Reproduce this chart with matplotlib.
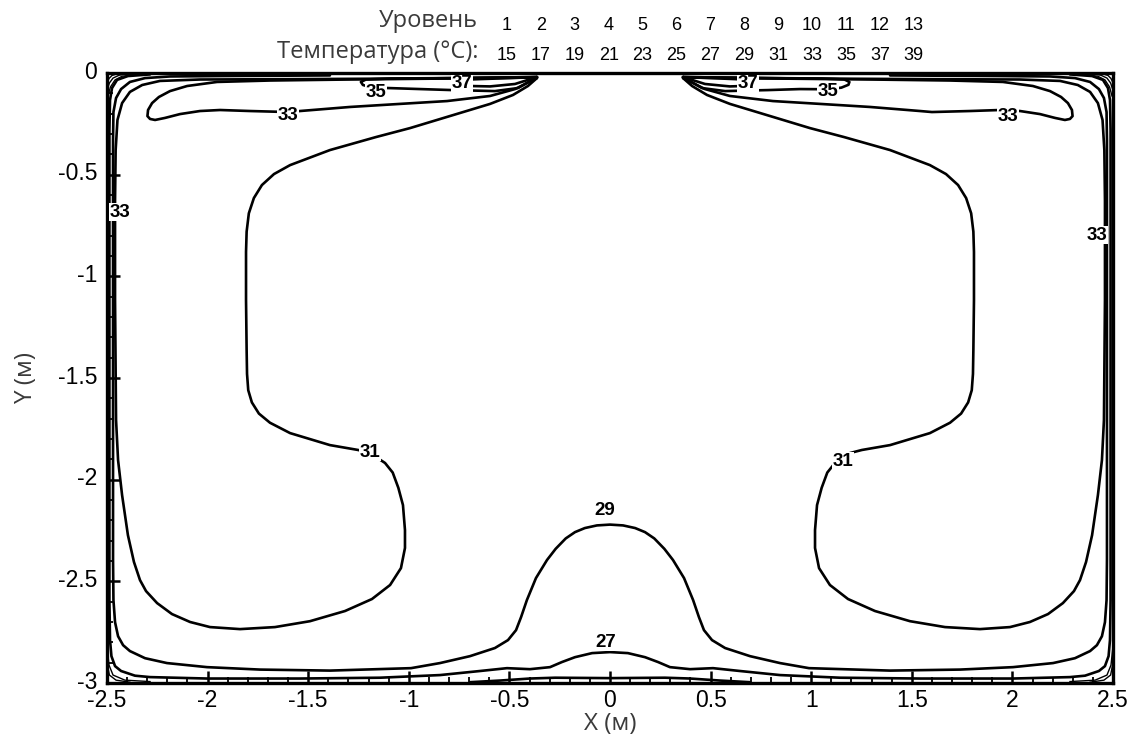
import matplotlib
matplotlib.use("Agg")
import matplotlib.pyplot as plt
import matplotlib.transforms as mtransforms
from matplotlib.ticker import MultipleLocator, FuncFormatter

plt.rcParams['axes.unicode_minus'] = False

# legend header: contour level number and its temperature
levels = [1, 2, 3, 4, 5, 6, 7, 8, 9, 10, 11, 12, 13]
level_temps = [15, 17, 19, 21, 23, 25, 27, 29, 31, 33, 35, 37, 39]

# contour traces, (x, y) in metres
loop31_left = [(-0.363, -0.025), (-0.408, -0.064), (-0.482, -0.108), (-0.596, -0.152), (-0.810, -0.216),
               (-0.994, -0.271), (-1.163, -0.315), (-1.392, -0.379), (-1.590, -0.453), (-1.670, -0.497),
               (-1.730, -0.551), (-1.770, -0.615), (-1.795, -0.690), (-1.806, -0.780), (-1.809, -0.880),
               (-1.809, -1.117), (-1.806, -1.363), (-1.804, -1.480), (-1.798, -1.560), (-1.780, -1.620),
               (-1.745, -1.675), (-1.690, -1.720), (-1.590, -1.771), (-1.392, -1.830), (-1.252, -1.854),
               (-1.193, -1.869), (-1.118, -1.918), (-1.080, -1.965), (-1.052, -2.040), (-1.029, -2.125),
               (-1.019, -2.248), (-1.019, -2.336), (-1.039, -2.435), (-1.093, -2.518), (-1.183, -2.587),
               (-1.317, -2.646), (-1.491, -2.696), (-1.665, -2.725), (-1.839, -2.735), (-1.988, -2.725),
               (-2.087, -2.700), (-2.177, -2.661), (-2.251, -2.607), (-2.306, -2.548), (-2.336, -2.494),
               (-2.366, -2.405), (-2.396, -2.273), (-2.425, -2.076), (-2.445, -1.904), (-2.455, -1.707),
               (-2.460, -1.117), (-2.460, -0.625), (-2.457, -0.379), (-2.448, -0.231), (-2.425, -0.148),
               (-2.386, -0.093), (-2.325, -0.059), (-2.237, -0.039), (-2.038, -0.032), (-1.541, -0.030),
               (-0.944, -0.027), (-0.363, -0.020)]
loop31_right = [(0.363, -0.025), (0.408, -0.064), (0.482, -0.108), (0.596, -0.152), (0.810, -0.216),
                (0.994, -0.271), (1.163, -0.315), (1.392, -0.379), (1.590, -0.453), (1.670, -0.497),
                (1.730, -0.551), (1.770, -0.615), (1.795, -0.690), (1.806, -0.780), (1.809, -0.880),
                (1.809, -1.117), (1.806, -1.363), (1.804, -1.480), (1.798, -1.560), (1.780, -1.620),
                (1.745, -1.675), (1.690, -1.720), (1.590, -1.771), (1.392, -1.830), (1.252, -1.854),
                (1.193, -1.869), (1.118, -1.918), (1.080, -1.965), (1.052, -2.040), (1.029, -2.125),
                (1.019, -2.248), (1.019, -2.336), (1.039, -2.435), (1.093, -2.518), (1.183, -2.587),
                (1.317, -2.646), (1.491, -2.696), (1.665, -2.725), (1.839, -2.735), (1.988, -2.725),
                (2.087, -2.700), (2.177, -2.661), (2.251, -2.607), (2.306, -2.548), (2.336, -2.494),
                (2.366, -2.405), (2.396, -2.273), (2.425, -2.076), (2.445, -1.904), (2.455, -1.707),
                (2.460, -1.117), (2.460, -0.625), (2.457, -0.379), (2.448, -0.231), (2.425, -0.148),
                (2.386, -0.093), (2.325, -0.059), (2.237, -0.039), (2.038, -0.032), (1.541, -0.030),
                (0.944, -0.027), (0.363, -0.020)]

tongue33_left = [(-0.363, -0.025), (-0.472, -0.079), (-0.596, -0.113), (-0.810, -0.138), (-1.044, -0.152),
                 (-1.292, -0.167), (-1.541, -0.187), (-1.600, -0.192), (-1.789, -0.187), (-1.938, -0.182),
                 (-2.038, -0.187), (-2.137, -0.202), (-2.212, -0.221), (-2.261, -0.231), (-2.286, -0.226),
                 (-2.299, -0.212), (-2.296, -0.182), (-2.276, -0.148), (-2.242, -0.118), (-2.187, -0.089),
                 (-2.102, -0.064), (-1.953, -0.044), (-1.690, -0.037), (-1.292, -0.032), (-0.795, -0.027),
                 (-0.363, -0.022)]
tongue33_right = [(0.363, -0.025), (0.472, -0.079), (0.596, -0.113), (0.810, -0.138), (1.044, -0.152),
                  (1.292, -0.167), (1.541, -0.187), (1.600, -0.192), (1.789, -0.187), (1.938, -0.182),
                  (2.038, -0.187), (2.137, -0.202), (2.212, -0.221), (2.261, -0.231), (2.286, -0.226),
                  (2.299, -0.212), (2.296, -0.182), (2.276, -0.148), (2.242, -0.118), (2.187, -0.089),
                  (2.102, -0.064), (1.953, -0.044), (1.690, -0.037), (1.292, -0.032), (0.795, -0.027),
                  (0.363, -0.022)]

band35_left = [(-0.363, -0.020), (-0.457, -0.074), (-0.572, -0.089), (-0.696, -0.086), (-0.785, -0.084),
               (-0.944, -0.079), (-1.103, -0.074), (-1.183, -0.071), (-1.228, -0.059), (-1.238, -0.044),
               (-1.213, -0.032), (-1.093, -0.027), (-0.795, -0.025), (-0.363, -0.020)]
band35_right = [(0.363, -0.020), (0.457, -0.074), (0.572, -0.089), (0.696, -0.086), (0.785, -0.084),
                (0.944, -0.079), (1.084, -0.080), (1.150, -0.072), (1.185, -0.058), (1.190, -0.044),
                (1.165, -0.032), (1.050, -0.027), (0.795, -0.025), (0.363, -0.020)]

band37_left = [(-0.363, -0.020), (-0.472, -0.054), (-0.596, -0.066), (-0.696, -0.064), (-0.755, -0.057),
               (-0.770, -0.044), (-0.746, -0.034), (-0.646, -0.030), (-0.497, -0.025), (-0.363, -0.020)]
band37_right = [(0.363, -0.020), (0.472, -0.054), (0.596, -0.066), (0.660, -0.064), (0.710, -0.057),
                (0.725, -0.044), (0.700, -0.034), (0.620, -0.030), (0.497, -0.025), (0.363, -0.020)]

# line running down the walls, along the floor and over the central hump
line29 = [(-1.392, -0.012), (-1.938, -0.015), (-2.187, -0.017), (-2.311, -0.025), (-2.386, -0.044),
          (-2.430, -0.079), (-2.455, -0.123), (-2.468, -0.192), (-2.470, -0.330), (-2.470, -1.117),
          (-2.470, -1.854), (-2.470, -2.395), (-2.468, -2.592), (-2.460, -2.701), (-2.445, -2.770),
          (-2.420, -2.814), (-2.386, -2.843), (-2.311, -2.878), (-2.202, -2.902), (-2.003, -2.922),
          (-1.740, -2.934), (-1.392, -2.939), (-0.989, -2.927), (-0.845, -2.902), (-0.696, -2.868),
          (-0.572, -2.828), (-0.507, -2.789), (-0.467, -2.740), (-0.442, -2.676), (-0.413, -2.592),
          (-0.368, -2.484), (-0.313, -2.395), (-0.270, -2.340), (-0.220, -2.289), (-0.174, -2.258),
          (-0.125, -2.238), (-0.065, -2.225), (0.000, -2.221), (0.065, -2.225), (0.125, -2.238),
          (0.174, -2.258), (0.220, -2.289), (0.270, -2.340), (0.313, -2.395),
          (0.368, -2.484), (0.413, -2.592), (0.442, -2.676), (0.467, -2.740), (0.507, -2.789),
          (0.572, -2.828), (0.696, -2.868), (0.845, -2.902), (0.989, -2.927), (1.392, -2.939),
          (1.740, -2.934), (2.003, -2.922), (2.202, -2.902), (2.311, -2.878), (2.386, -2.843),
          (2.420, -2.814), (2.445, -2.770), (2.460, -2.701), (2.468, -2.592), (2.470, -2.395),
          (2.470, -1.854), (2.470, -1.117), (2.470, -0.330), (2.468, -0.192), (2.455, -0.123),
          (2.430, -0.079), (2.386, -0.044), (2.311, -0.025), (2.187, -0.017), (1.938, -0.015),
          (1.392, -0.012)]

line27 = [(-2.286, -0.007), (-2.396, -0.015), (-2.450, -0.034), (-2.475, -0.074), (-2.485, -0.133),
          (-2.488, -0.280), (-2.488, -1.117), (-2.488, -1.854), (-2.488, -2.592), (-2.485, -2.789),
          (-2.478, -2.868), (-2.460, -2.917), (-2.430, -2.941), (-2.361, -2.964), (-2.286, -2.971),
          (-2.003, -2.978), (-1.541, -2.978), (-1.143, -2.974), (-0.845, -2.961), (-0.646, -2.941),
          (-0.512, -2.927), (-0.398, -2.932), (-0.298, -2.922), (-0.239, -2.897), (-0.174, -2.873),
          (-0.089, -2.853), (0.000, -2.848), (0.089, -2.853), (0.174, -2.873), (0.239, -2.897),
          (0.298, -2.922), (0.398, -2.932), (0.512, -2.927), (0.646, -2.941), (0.845, -2.961),
          (1.143, -2.974), (1.541, -2.978), (2.003, -2.978), (2.286, -2.971), (2.361, -2.964),
          (2.430, -2.941), (2.460, -2.917), (2.478, -2.868), (2.485, -2.789), (2.488, -2.592),
          (2.488, -1.854), (2.488, -1.117), (2.488, -0.280), (2.485, -0.133), (2.475, -0.074),
          (2.450, -0.034), (2.396, -0.015), (2.286, -0.007)]

line25 = [(-0.696, -2.996), (-0.547, -2.988), (-0.398, -2.978), (-0.273, -2.974), (0.000, -2.976),
          (0.273, -2.974), (0.398, -2.978), (0.547, -2.988), (0.696, -2.996)]

# small arcs packed into the four corners
corner_arcs = [
    [(-2.498, -0.044), (-2.490, -0.027), (-2.475, -0.012), (-2.455, -0.006)],
    [(-2.498, -0.079), (-2.488, -0.049), (-2.470, -0.025), (-2.440, -0.011), (-2.411, -0.006)],
    [(-2.495, -0.113), (-2.483, -0.069), (-2.460, -0.034), (-2.425, -0.016), (-2.371, -0.009)],
    [(2.498, -0.044), (2.490, -0.027), (2.475, -0.012), (2.455, -0.006)],
    [(2.498, -0.079), (2.488, -0.049), (2.470, -0.025), (2.440, -0.011), (2.411, -0.006)],
    [(2.495, -0.113), (2.483, -0.069), (2.460, -0.034), (2.425, -0.016), (2.371, -0.009)],
    [(-2.498, -2.838), (-2.490, -2.912), (-2.470, -2.961), (-2.411, -2.986), (-2.286, -2.993)],
    [(-2.498, -2.912), (-2.488, -2.961), (-2.455, -2.986), (-2.386, -2.996)],
    [(2.498, -2.838), (2.490, -2.912), (2.470, -2.961), (2.411, -2.986), (2.286, -2.993)],
    [(2.498, -2.912), (2.488, -2.961), (2.455, -2.986), (2.386, -2.996)],
]

# contour labels: text, x, y
contour_labels = [
    ("37", -0.736, -0.054), ("35", -1.163, -0.098), ("33", -1.600, -0.207), ("33", -2.435, -0.684),
    ("31", -1.193, -1.864), ("29", -0.025, -2.154), ("27", -0.020, -2.799),
    ("37", 0.686, -0.054), ("35", 1.084, -0.089), ("33", 1.978, -0.212), ("33", 2.420, -0.797),
    ("31", 1.158, -1.909),
]

W, H = 1139, 743
fig = plt.figure(figsize=(W / 100, H / 100), dpi=100)
ax = fig.add_axes([107 / W, 60 / H, 1006 / W, 610 / H])

traces = [loop31_left, loop31_right, tongue33_left, tongue33_right, band35_left, band35_right,
          band37_left, band37_right, line29, line27, line25]
for tr in traces:
    xs = [p[0] for p in tr]
    ys = [p[1] for p in tr]
    ax.plot(xs, ys, color='black', lw=1.9, solid_joinstyle='round', solid_capstyle='round', zorder=3)
for tr in corner_arcs:
    xs = [p[0] for p in tr]
    ys = [p[1] for p in tr]
    ax.plot(xs, ys, color='black', lw=1.0, solid_joinstyle='round', zorder=3)

for txt, lx, ly in contour_labels:
    ax.text(lx, ly, txt, ha='center', va='center', fontsize=13.5, fontweight='bold',
            family='Liberation Sans', zorder=5,
            bbox=dict(boxstyle='square,pad=0.02', fc='white', ec='none'))

ax.set_xlim(-2.5, 2.5)
ax.set_ylim(-3, 0)
ax.xaxis.set_major_locator(MultipleLocator(0.5))
ax.xaxis.set_minor_locator(MultipleLocator(0.1))
ax.yaxis.set_major_locator(MultipleLocator(0.5))
ax.yaxis.set_minor_locator(MultipleLocator(0.1))
fmt = FuncFormatter(lambda v, pos: '%g' % round(v, 2))
ax.xaxis.set_major_formatter(fmt)
ax.yaxis.set_major_formatter(fmt)
ax.tick_params(which='both', direction='in', top=False, right=False, width=1.3)
ax.tick_params(which='major', length=9, width=1.8)
ax.tick_params(which='minor', length=4.5)
ax.tick_params(axis='x', which='major', pad=4.5)
ax.tick_params(axis='y', which='major', pad=7)
for lab in ax.get_xticklabels() + ax.get_yticklabels():
    lab.set_family('Liberation Sans')
    lab.set_fontsize(16.5)
# y tick labels sit a little above their ticks in the original
lift = mtransforms.ScaledTranslation(0, 2.5 / 72, fig.dpi_scale_trans)
for lab in ax.get_yticklabels():
    lab.set_transform(lab.get_transform() + lift)
for sp in ax.spines.values():
    sp.set_linewidth(2.4)
    sp.set_zorder(4)

grey = '#3a3a3a'
ax.set_xlabel('X (м)', family='Open Sans', fontsize=17.5, color=grey, labelpad=0)
ax.set_ylabel('Y (м)', family='Open Sans', fontsize=17.5, color=grey, labelpad=14)

# header legend above the plot
fig.text(478 / W, 1 - 21 / H, 'Уровень', ha='right', va='center', family='Open Sans',
         fontsize=17, color=grey)
fig.text(478 / W, 1 - 52 / H, 'Температура (°C):', ha='right', va='center', family='Open Sans',
         fontsize=17, color=grey)
for i, (lv, tv) in enumerate(zip(levels, level_temps)):
    cx = (507 + i * 33.9) / W
    fig.text(cx, 1 - 25 / H, str(lv), ha='center', va='center', family='Liberation Sans',
             fontsize=13, color='black')
    fig.text(cx, 1 - 55 / H, str(tv), ha='center', va='center', family='Liberation Sans',
             fontsize=13, color='black')

fig.savefig('out.png', dpi=100)
